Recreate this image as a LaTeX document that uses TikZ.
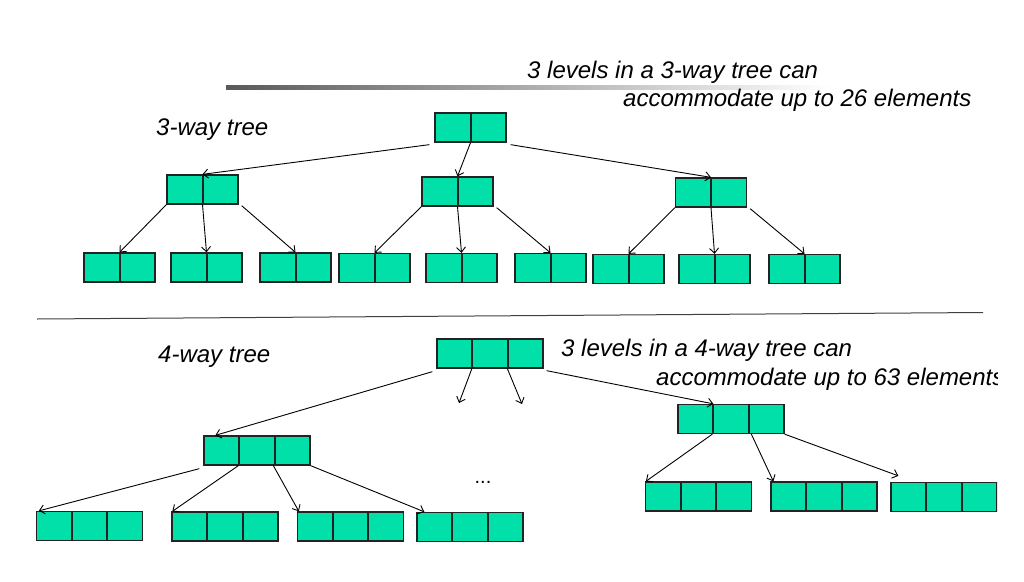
\documentclass[tikz,border=0pt]{standalone}
\usepackage{fontspec}
\setmainfont{Liberation Sans}
\usetikzlibrary{arrows.meta,calc}
\definecolor{cellgreen}{RGB}{0,224,168}
\definecolor{boxline}{RGB}{35,35,35}
\begin{document}
\begin{tikzpicture}[x=1pt,y=-1pt,
  box/.style={draw=boxline, fill=cellgreen, line width=1.3pt, inner sep=0pt, minimum height=29pt, anchor=center},
  twocell/.style={box, minimum width=71pt,
    path picture={\draw[boxline,line width=2pt] (path picture bounding box.north) -- (path picture bounding box.south);}},
  threecell/.style={box, minimum width=106pt,
    path picture={\draw[boxline,line width=2pt]
      ($(path picture bounding box.north west)!1/3!(path picture bounding box.north east)$) --
      ($(path picture bounding box.south west)!1/3!(path picture bounding box.south east)$)
      ($(path picture bounding box.north west)!2/3!(path picture bounding box.north east)$) --
      ($(path picture bounding box.south west)!2/3!(path picture bounding box.south east)$);}},
  link/.style={draw=black, line width=0.9pt, -{Straight Barb[length=5pt,width=9pt]}},
  lbl/.style={font=\fontsize{24}{28}\selectfont\itshape, inner sep=0pt, anchor=west}]
\useasboundingbox[fill=white] (0,0) rectangle (1024,581);
\begin{scope}
\clip (0,0) rectangle (997,581);

% gradient rule at top
\shade[left color=black!65, right color=white] (226,85.5) rectangle (830,89);

% separator line
\draw[black!75, line width=1pt] (37,319) -- (983,312.5);

% texts
\node[lbl] (t1) at (527,72) {3 levels in a 3-way tree can};
\node[lbl] (t2) at (623,100) {accommodate up to 26 elements};
\node[lbl] (t3) at (156,130) {3-way tree};
\node[lbl] (t4) at (158,357) {4-way tree};
\node[lbl] (t5) at (561,350) {3 levels in a 4-way tree can};
\node[lbl] (t6) at (656,379) {accommodate up to 63 elements};
\node[font=\fontsize{20}{24}\selectfont, inner sep=0pt] (dots) at (483,482) {...};

% ---- 3-way tree ----
\node[twocell] (r3) at (470.5,127.5) {};
\node[twocell] (a) at (202.5,189.5) {};
\node[twocell] (b) at (457.5,191.5) {};
\node[twocell] (c) at (711,192.5) {};
\node[twocell] (a1) at (119.5,267.5) {};
\node[twocell] (a2) at (206.5,267.5) {};
\node[twocell] (a3) at (295.5,267.5) {};
\node[twocell] (b1) at (374.5,268) {};
\node[twocell] (b2) at (461.5,268) {};
\node[twocell] (b3) at (550.5,268) {};
\node[twocell] (c1) at (628.5,269) {};
\node[twocell] (c2) at (714.5,269) {};
\node[twocell] (c3) at (804.5,269) {};

\draw[link] ($(r3.south west)+(-5,2)$) -- (a.north);
\draw[link] (r3.south) -- (b.north);
\draw[link] ($(r3.south east)+(4,2)$) -- (c.north);
\draw[link] (a.south west) -- (a1.north);
\draw[link] (a.south) -- (a2.north);
\draw[link] ($(a.south east)+(3,1)$) -- (a3.north);
\draw[link] (b.south west) -- (b1.north);
\draw[link] (b.south) -- (b2.north);
\draw[link] ($(b.south east)+(3,1)$) -- (b3.north);
\draw[link] (c.south west) -- (c1.north);
\draw[link] (c.south) -- (c2.north);
\draw[link] ($(c.south east)+(3,1)$) -- (c3.north);

% ---- 4-way tree ----
\node[threecell] (R) at (490,353.5) {};
\node[threecell] (L) at (257,450.5) {};
\node[threecell] (Q) at (731,419) {};
\node[threecell] (L1) at (89.5,526) {};
\node[threecell] (L2) at (225,526.5) {};
\node[threecell] (L3) at (350.5,526.5) {};
\node[threecell] (L4) at (470,527) {};
\node[threecell] (Q1) at (698.5,496.5) {};
\node[threecell] (Q2) at (824,496.5) {};
\node[threecell] (Q3) at (944,497) {};

\coordinate (f1) at (459,403);
\coordinate (f2) at (522,404);

\draw[link] ($(R.south west)+(-4,3)$) -- ($(L.north west)+(12,0)$);
\draw[link] ($(R.south west)+(35.5,0)$) -- (f1);
\draw[link] ($(R.south west)+(71,0)$) -- (f2);
\draw[link] ($(R.south east)+(3,2)$) -- ($(Q.north west)+(36,0)$);

\draw[link] ($(L.south west)+(-4,3)$) -- ($(L1.north west)+(3,0)$);
\draw[link] ($(L.south west)+(35,0)$) -- ($(L2.north west)+(1,0)$);
\draw[link] ($(L.south west)+(70,0)$) -- ($(L3.north west)+(2,0)$);
\draw[link] (L.south east) -- ($(L4.north west)+(8,0)$);

\draw[link] ($(Q.south west)+(35,0)$) -- ($(Q1.north west)+(1,0)$);
\draw[link] ($(Q.south west)+(74,0)$) -- ($(Q2.north west)+(3,0)$);
\draw[link] (Q.south east) -- ($(Q3.north west)+(8,-6)$);
\end{scope}
\end{tikzpicture}
\end{document}
